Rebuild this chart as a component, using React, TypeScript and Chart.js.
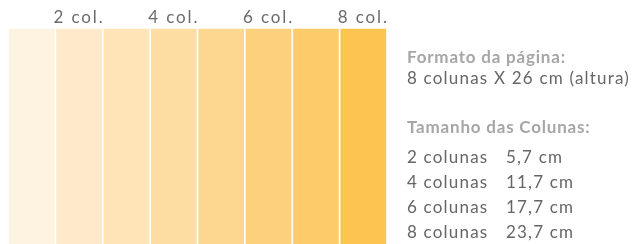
import React, { useEffect, useRef } from "react";
import { Chart, registerables } from "chart.js";

Chart.register(...registerables);

const categories = ["1", "2", "3", "4", "5", "6", "7", "8"];
const tickLabels = ["", "2 col.", "", "4 col.", "", "6 col.", "", "8 col."];
const columnHeights = [1, 1, 1, 1, 1, 1, 1, 1];
const columnColors = ["#FEF3E1", "#FEEACB", "#FEE4B6", "#FDDDA2", "#FDD78F", "#FDD07C", "#FECB6A", "#FDC44F"];

const formatTitle = "Formato da página:";
const formatText = "8 colunas X 26 cm (altura)";
const sizesTitle = "Tamanho das Colunas:";
const sizeNames = ["2 colunas", "4 colunas", "6 colunas", "8 colunas"];
const sizeValues = ["5,7 cm", "11,7 cm", "17,7 cm", "23,7 cm"];

const FONT = "Lato, 'Open Sans', sans-serif";

const letterSpacingPlugin = {
  id: "letterSpacing",
  beforeDraw(chart: any) {
    chart.ctx.letterSpacing = "1.9px";
  },
};

export default function App() {
  const canvasRef = useRef<HTMLCanvasElement | null>(null);

  useEffect(() => {
    document.body.style.margin = "0";
    const ctx = canvasRef.current;
    if (!ctx) return;
    const chart = new Chart(ctx, {
      type: "bar",
      data: {
        labels: categories,
        datasets: [
          {
            data: columnHeights,
            backgroundColor: columnColors,
            borderWidth: 0,
            barPercentage: 1,
            categoryPercentage: 0.965,
          },
        ],
      },
      plugins: [letterSpacingPlugin],
      options: {
        responsive: false,
        animation: false,
        layout: { padding: { left: 8, right: 245, top: 6, bottom: 0 } },
        plugins: { legend: { display: false }, tooltip: { enabled: false } },
        scales: {
          x: {
            position: "top",
            grid: { display: false, drawTicks: false },
            border: { display: false },
            ticks: {
              padding: 1,
              color: "#6b6b6b",
              font: { family: FONT, size: 17 },
              maxRotation: 0,
              autoSkip: false,
              callback: (_v: any, i: number) => tickLabels[i],
            },
          },
          y: { display: false, min: 0, max: 1 },
        },
      },
    });
    return () => chart.destroy();
  }, []);

  const lineStyle: React.CSSProperties = {
    position: "absolute",
    left: 407,
    fontFamily: FONT,
    fontSize: 17,
    lineHeight: "20px",
    letterSpacing: "1.2px",
    whiteSpace: "pre",
    color: "#666666",
  };
  const headStyle: React.CSSProperties = { fontWeight: "bold", color: "#a6a6a6", letterSpacing: "0.8px" };

  return (
    <div style={{ position: "relative", width: 632, height: 244, overflow: "hidden", background: "#fff" }}>
      <canvas ref={canvasRef} width={632} height={244} style={{ position: "absolute", left: 0, top: 0 }} />
      <div style={{ ...lineStyle, ...headStyle, top: 47 }}>{formatTitle}</div>
      <div style={{ ...lineStyle, top: 68 }}>{formatText}</div>
      <div style={{ ...lineStyle, ...headStyle, top: 117 }}>{sizesTitle}</div>
      {sizeNames.map((n, i) => (
        <div key={n} style={{ ...lineStyle, top: 147 + i * 25 }}>
          <span style={{ display: "inline-block", width: 99 }}>{n}</span>
          {sizeValues[i]}
        </div>
      ))}
    </div>
  );
}
